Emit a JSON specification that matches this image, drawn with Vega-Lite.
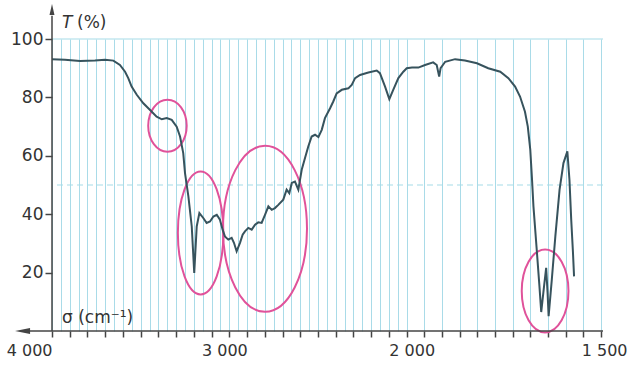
{
  "$schema": "https://vega.github.io/schema/vega-lite/v6.json",
  "width": 551,
  "height": 292,
  "autosize": "none",
  "padding": {"left": 52, "top": 39, "right": 26, "bottom": 34},
  "background": "white",
  "config": {"view": {"stroke": null}, "font": "DejaVu Sans"},
  "data": {"values": [{}]},
  "datasets": {
    "spectrum": [
      {"cm": 4000, "t": 93.1}, {"cm": 3927, "t": 92.9}, {"cm": 3842, "t": 92.5}, {"cm": 3758, "t": 92.6},
      {"cm": 3701, "t": 92.9}, {"cm": 3654, "t": 92.6}, {"cm": 3617, "t": 91.1}, {"cm": 3588, "t": 88.8},
      {"cm": 3570, "t": 86.6}, {"cm": 3551, "t": 83.7}, {"cm": 3522, "t": 80.9}, {"cm": 3485, "t": 78.0},
      {"cm": 3447, "t": 75.7}, {"cm": 3410, "t": 73.4}, {"cm": 3381, "t": 72.5}, {"cm": 3353, "t": 72.9},
      {"cm": 3325, "t": 72.3}, {"cm": 3297, "t": 70.0}, {"cm": 3278, "t": 66.6}, {"cm": 3260, "t": 60.9},
      {"cm": 3250, "t": 54.1}, {"cm": 3231, "t": 46.1}, {"cm": 3212, "t": 35.8}, {"cm": 3198, "t": 19.9},
      {"cm": 3184, "t": 35.8}, {"cm": 3169, "t": 40.4}, {"cm": 3147, "t": 38.7}, {"cm": 3128, "t": 37.0},
      {"cm": 3109, "t": 37.5}, {"cm": 3090, "t": 39.2}, {"cm": 3071, "t": 39.8}, {"cm": 3053, "t": 38.1},
      {"cm": 3038, "t": 34.7}, {"cm": 3025, "t": 32.4}, {"cm": 3006, "t": 31.3}, {"cm": 2987, "t": 31.9},
      {"cm": 2974, "t": 30.2}, {"cm": 2959, "t": 27.3}, {"cm": 2940, "t": 30.2}, {"cm": 2925, "t": 33.0},
      {"cm": 2912, "t": 34.1}, {"cm": 2893, "t": 35.3}, {"cm": 2874, "t": 34.7}, {"cm": 2855, "t": 36.4},
      {"cm": 2837, "t": 37.2}, {"cm": 2818, "t": 37.0}, {"cm": 2799, "t": 39.8}, {"cm": 2780, "t": 42.7},
      {"cm": 2761, "t": 41.5}, {"cm": 2743, "t": 42.1}, {"cm": 2724, "t": 43.2}, {"cm": 2696, "t": 45.0},
      {"cm": 2677, "t": 48.4}, {"cm": 2662, "t": 47.2}, {"cm": 2648, "t": 50.7}, {"cm": 2630, "t": 51.2},
      {"cm": 2611, "t": 48.4}, {"cm": 2592, "t": 55.2}, {"cm": 2573, "t": 59.3}, {"cm": 2555, "t": 63.2},
      {"cm": 2536, "t": 66.6}, {"cm": 2517, "t": 67.2}, {"cm": 2498, "t": 66.4}, {"cm": 2479, "t": 68.9},
      {"cm": 2461, "t": 72.9}, {"cm": 2432, "t": 76.3}, {"cm": 2414, "t": 78.6}, {"cm": 2395, "t": 81.4},
      {"cm": 2366, "t": 82.6}, {"cm": 2329, "t": 83.1}, {"cm": 2310, "t": 84.3}, {"cm": 2291, "t": 86.6},
      {"cm": 2263, "t": 87.7}, {"cm": 2216, "t": 88.5}, {"cm": 2169, "t": 89.2}, {"cm": 2151, "t": 88.3},
      {"cm": 2122, "t": 83.7}, {"cm": 2098, "t": 79.4}, {"cm": 2076, "t": 82.6}, {"cm": 2047, "t": 86.6},
      {"cm": 2019, "t": 88.8}, {"cm": 2000, "t": 90.0}, {"cm": 1985, "t": 90.2}, {"cm": 1967, "t": 90.2},
      {"cm": 1948, "t": 91.1}, {"cm": 1925, "t": 92.0}, {"cm": 1915, "t": 91.1}, {"cm": 1908, "t": 87.1},
      {"cm": 1904, "t": 90.0}, {"cm": 1891, "t": 92.2}, {"cm": 1863, "t": 93.1}, {"cm": 1835, "t": 92.6},
      {"cm": 1801, "t": 91.7}, {"cm": 1769, "t": 90.0}, {"cm": 1735, "t": 88.8}, {"cm": 1712, "t": 86.6},
      {"cm": 1693, "t": 83.7}, {"cm": 1679, "t": 80.3}, {"cm": 1665, "t": 75.1}, {"cm": 1657, "t": 70.0},
      {"cm": 1650, "t": 62.1}, {"cm": 1645, "t": 51.8}, {"cm": 1641, "t": 42.7}, {"cm": 1631, "t": 26.7},
      {"cm": 1624, "t": 15.3}, {"cm": 1619, "t": 6.5}, {"cm": 1611, "t": 15.3}, {"cm": 1605, "t": 21.6},
      {"cm": 1601, "t": 13.1}, {"cm": 1598, "t": 5.1}, {"cm": 1589, "t": 17.6}, {"cm": 1579, "t": 32.4},
      {"cm": 1567, "t": 48.4}, {"cm": 1556, "t": 57.5}, {"cm": 1545, "t": 61.5}, {"cm": 1539, "t": 51.8},
      {"cm": 1534, "t": 38.1}, {"cm": 1529, "t": 26.7}, {"cm": 1526, "t": 18.7}
    ]
  },
  "layer": [
    {
      "mark": {"type": "rule", "color": "#a6dbe8", "strokeWidth": 1.2},
      "encoding": {
        "y": {
          "datum": 100,
          "type": "quantitative",
          "scale": {"domain": [0, 100], "nice": false, "zero": true},
          "axis": {
            "values": [20, 40, 60, 80, 100],
            "title": null,
            "domain": false,
            "grid": false,
            "tickSize": 7,
            "tickWidth": 1.5,
            "tickColor": "#444444",
            "labelFontSize": 17,
            "labelColor": "#333333",
            "labelPadding": 2
          }
        }
      }
    },
    {
      "mark": {"type": "rule", "color": "#a6dbe8", "strokeWidth": 1.2, "strokeDash": [6, 4]},
      "encoding": {"y": {"datum": 50, "type": "quantitative", "title": null}}
    },
    {
      "data": {"values": [{"cm": 3349, "t": 70.3}]},
      "mark": {"type": "point", "shape": "M 0.74 0 C 0.74 0.552 0.409 1 0 1 C -0.409 1 -0.74 0.552 -0.74 0 C -0.74 -0.552 -0.409 -1 0 -1 C 0.409 -1 0.74 -0.552 0.74 0 Z", "size": 2704, "filled": false, "stroke": "#e0529a", "strokeWidth": 2, "opacity": 1},
      "encoding": {"x": {"field": "cm", "type": "quantitative", "title": null}, "y": {"field": "t", "type": "quantitative", "title": null}}
    },
    {
      "data": {"values": [{"cm": 3162, "t": 33.6}]},
      "mark": {"type": "point", "shape": "M 0.37 0 C 0.37 0.552 0.204 1 0 1 C -0.204 1 -0.37 0.552 -0.37 0 C -0.37 -0.552 -0.204 -1 0 -1 C 0.204 -1 0.37 -0.552 0.37 0 Z", "size": 15129, "filled": false, "stroke": "#e0529a", "strokeWidth": 2, "opacity": 1},
      "encoding": {"x": {"field": "cm", "type": "quantitative", "title": null}, "y": {"field": "t", "type": "quantitative", "title": null}}
    },
    {
      "data": {"values": [{"cm": 2799, "t": 35.0}]},
      "mark": {"type": "point", "shape": "M 0.506 0 C 0.506 0.552 0.279 1 0 1 C -0.279 1 -0.506 0.552 -0.506 0 C -0.506 -0.552 -0.279 -1 0 -1 C 0.279 -1 0.506 -0.552 0.506 0 Z", "size": 27556, "filled": false, "stroke": "#e0529a", "strokeWidth": 2, "opacity": 1},
      "encoding": {"x": {"field": "cm", "type": "quantitative", "title": null}, "y": {"field": "t", "type": "quantitative", "title": null}}
    },
    {
      "data": {"values": [{"cm": 1608, "t": 13.7}]},
      "mark": {"type": "point", "shape": "M 0.563 0 C 0.563 0.552 0.311 1 0 1 C -0.311 1 -0.563 0.552 -0.563 0 C -0.563 -0.552 -0.311 -1 0 -1 C 0.311 -1 0.563 -0.552 0.563 0 Z", "size": 6889, "filled": false, "stroke": "#e0529a", "strokeWidth": 2, "opacity": 1},
      "encoding": {"x": {"field": "cm", "type": "quantitative", "title": null}, "y": {"field": "t", "type": "quantitative", "title": null}}
    },
    {
      "data": {"name": "spectrum"},
      "mark": {"type": "line", "color": "#37535d", "strokeWidth": 2, "interpolate": "linear"},
      "encoding": {
        "x": {
          "field": "cm",
          "type": "quantitative",
          "scale": {"domain": [4000, 2000, 1444], "range": [0, 354.7, 551], "nice": false, "zero": false},
          "axis": {
            "values": [4000, 3950, 3900, 3850, 3800, 3750, 3700, 3650, 3600, 3550, 3500, 3450, 3400, 3350, 3300, 3250, 3200, 3150, 3100, 3050, 3000, 2950, 2900, 2850, 2800, 2750, 2700, 2650, 2600, 2550, 2500, 2450, 2400, 2350, 2300, 2250, 2200, 2150, 2100, 2050, 2000, 1950, 1900, 1850, 1800, 1750, 1700, 1650, 1600, 1550, 1500, 1450],
            "tickCount": 200,
            "title": null,
            "domain": false,
            "grid": true,
            "gridColor": "#a9dbe8",
            "gridWidth": 1,
            "tickSize": 6,
            "tickWidth": 1.5,
            "tickColor": "#444444",
            "tickOpacity": {"condition": {"test": "datum.value > 2000 && datum.value % 100 != 0", "value": 0}, "value": 1},
            "labelExpr": "datum.value == 4000 ? '4 000' : datum.value == 3000 ? '3 000' : datum.value == 2000 ? '2 000' : datum.value == 1500 ? '1 500' : ''",
            "labelFontSize": 16,
            "labelColor": "#333333",
            "labelPadding": 5,
            "labelOverlap": false,
            "labelBound": false,
            "labelFlush": false,
            "labelAlign": {"condition": [{"test": "datum.value == 4000", "value": "right"}, {"test": "datum.value == 1500", "value": "left"}], "value": "center"},
            "labelOffset": {"condition": [{"test": "datum.value == 3000", "value": -5}, {"test": "datum.value == 2000", "value": 5}, {"test": "datum.value == 1500", "value": -2}], "value": 0}
          }
        },
        "y": {"field": "t", "type": "quantitative", "title": null}
      }
    },
    {
      "mark": {"type": "rule", "color": "#444444", "strokeWidth": 1.5},
      "encoding": {
        "x": {"datum": 4150, "type": "quantitative", "title": null},
        "x2": {"datum": 1444},
        "y": {"datum": 0, "type": "quantitative", "title": null}
      }
    },
    {
      "mark": {"type": "rule", "color": "#444444", "strokeWidth": 1.5},
      "encoding": {
        "x": {"datum": 4000, "type": "quantitative", "title": null},
        "y": {"datum": 0, "type": "quantitative", "title": null},
        "y2": {"datum": 108}
      }
    },
    {
      "mark": {"type": "point", "shape": "M -1 0 L 1 -0.4 L 1 0.4 Z", "size": 225, "filled": true, "color": "#444444", "opacity": 1},
      "encoding": {
        "x": {"datum": 4166, "type": "quantitative", "title": null},
        "y": {"datum": 0, "type": "quantitative", "title": null}
      }
    },
    {
      "mark": {"type": "point", "shape": "M 0 -1 L 0.45 1 L -0.45 1 Z", "size": 121, "filled": true, "color": "#444444", "opacity": 1},
      "encoding": {
        "x": {"datum": 4000, "type": "quantitative", "title": null},
        "y": {"datum": 110.1, "type": "quantitative", "title": null}
      }
    },
    {
      "mark": {"type": "text", "text": "T", "fontStyle": "italic", "fontSize": 17, "align": "left", "baseline": "alphabetic", "dx": 10, "color": "#333333"},
      "encoding": {
        "x": {"datum": 4000, "type": "quantitative", "title": null},
        "y": {"datum": 103.8, "type": "quantitative", "title": null}
      }
    },
    {
      "mark": {"type": "text", "text": "(%)", "fontSize": 17, "align": "left", "baseline": "alphabetic", "dx": 25, "color": "#333333"},
      "encoding": {
        "x": {"datum": 4000, "type": "quantitative", "title": null},
        "y": {"datum": 103.8, "type": "quantitative", "title": null}
      }
    },
    {
      "mark": {"type": "text", "text": "σ (cm⁻¹)", "fontSize": 17, "align": "left", "baseline": "alphabetic", "dx": 10, "color": "#333333"},
      "encoding": {
        "x": {"datum": 4000, "type": "quantitative", "title": null},
        "y": {"datum": 2.6, "type": "quantitative", "title": null}
      }
    }
  ]
}
